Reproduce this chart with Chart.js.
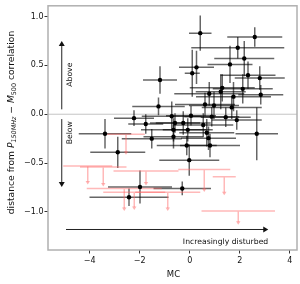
<!DOCTYPE html>
<html><head><meta charset="utf-8">
<script src="https://cdn.jsdelivr.net/npm/chart.js@4/dist/chart.umd.min.js"></script>
<style>html,body{margin:0;padding:0;background:#fff}#wrap{width:300px;height:284px}</style>
</head><body><div id="wrap"><canvas id="c" width="300" height="284"></canvas></div>
<script>
// Detected clusters: morphological concentration (MC) vs distance from correlation
const mcValues   = [0.42,2.6,1.92,2.18,1.61,0.27,0.10,-1.19,2.33,2.8,1.3,2.12,0.78,1.24,1.75,2.84,0.61,0.97,1.68,1.44,1.88,0.88,-1.25,-2.23,-0.72,0.05,-1.76,-0.59,-0.26,0.54,-0.65,-0.08,0.68,-0.65,0.75,2.68,-1.52,-0.12,0.81,-3.39,-2.88,-0.02,-0.3,-1.99,-2.43];
const mcErrors   = [0.45,1.1,1.86,1.2,0.9,0.7,0.3,0.68,1.1,1.0,1.3,1.2,1.4,1.0,1.5,0.9,1.2,1.0,1.2,1.0,1.0,1.1,1.05,0.8,1.2,1.0,0.7,1.0,1.1,1.2,1.3,1.0,1.1,1.2,1.1,0.85,1.2,1.2,1.2,1.05,1.1,1.2,1.15,1.28,1.58];
const distValues = [0.83,0.79,0.68,0.57,0.51,0.48,0.42,0.35,0.40,0.37,0.27,0.26,0.21,0.23,0.18,0.20,0.10,0.09,0.07,-0.03,-0.06,-0.025,0.08,-0.04,-0.02,-0.015,-0.10,-0.09,-0.09,-0.11,-0.16,-0.16,-0.19,-0.23,-0.245,-0.20,-0.25,-0.32,-0.32,-0.20,-0.39,-0.47,-0.76,-0.745,-0.85];
const distErrors = [0.18,0.10,0.11,0.18,0.19,0.17,0.24,0.14,0.14,0.12,0.14,0.15,0.12,0.18,0.15,0.10,0.12,0.14,0.12,0.10,0.10,0.10,0.09,0.08,0.15,0.10,0.10,0.10,0.12,0.12,0.12,0.12,0.14,0.12,0.12,0.27,0.10,0.10,0.12,0.15,0.16,0.16,0.07,0.17,0.09];
// Upper limits (pink)
const limitMC     = [-2.55,-4.08,-3.46,-1.75,-2.62,-2.22,-0.88,0.58,1.38,1.94];
const limitMCErr  = [0.75,0.98,0.93,1.3,1.5,1.24,1.3,1.04,0.46,1.47];
const limitDist   = [-0.205,-0.53,-0.54,-0.58,-0.76,-0.80,-0.80,-0.565,-0.64,-0.99];
const limitArrow  = [0.20,0.18,0.19,0.14,0.22,0.17,0.18,0.22,0.18,0.13];
const xTicks = [-4,-2,0,2,4];
const yTicks = [-1.0,-0.5,0.0,0.5,1.0];

const FONT = '"DejaVu Sans", sans-serif';
const fmt = (v,d)=> (v<0?'\u2212':'') + Math.abs(v).toFixed(d);

const overlay = {
  id:'overlay',
  beforeDatasetsDraw(chart){
    const {ctx, chartArea:a} = chart;
    const xs = chart.scales.x, ys = chart.scales.y;
    const X = v=>xs.getPixelForValue(v), Y = v=>ys.getPixelForValue(v);
    ctx.save();
    ctx.beginPath(); ctx.rect(a.left,a.top,a.right-a.left,a.bottom-a.top); ctx.clip();
    // zero line
    ctx.strokeStyle='#c4c4c4'; ctx.lineWidth=1;
    ctx.beginPath(); ctx.moveTo(a.left,Y(0)); ctx.lineTo(a.right,Y(0)); ctx.stroke();
    // annotation arrows
    ctx.strokeStyle='#222'; ctx.fillStyle='#111'; ctx.lineWidth=1;
    const ax = X(-5.12);
    function vArrow(y0,y1){
      const p0=Y(y0), p1=Y(y1), dir = p1<p0?-1:1;
      ctx.beginPath(); ctx.moveTo(ax,p0); ctx.lineTo(ax,p1-dir*4); ctx.stroke();
      ctx.beginPath(); ctx.moveTo(ax,p1); ctx.lineTo(ax-3,p1-dir*5); ctx.lineTo(ax+3,p1-dir*5); ctx.closePath(); ctx.fill();
    }
    vArrow(0.05,0.75); vArrow(-0.05,-0.745);
    const hy = Y(-1.18), hx0 = X(-4.95), hx1 = X(3.14);
    ctx.beginPath(); ctx.moveTo(hx0,hy); ctx.lineTo(hx1-4,hy); ctx.stroke();
    ctx.beginPath(); ctx.moveTo(hx1,hy); ctx.lineTo(hx1-5,hy-3); ctx.lineTo(hx1-5,hy+3); ctx.closePath(); ctx.fill();
    // error bars
    ctx.strokeStyle='rgba(0,0,0,0.6)'; ctx.lineWidth=1.5;
    for(let i=0;i<mcValues.length;i++){
      const px=X(mcValues[i]), py=Y(distValues[i]);
      ctx.beginPath();
      ctx.moveTo(X(mcValues[i]-mcErrors[i]),py); ctx.lineTo(X(mcValues[i]+mcErrors[i]),py);
      ctx.moveTo(px,Y(distValues[i]+distErrors[i])); ctx.lineTo(px,Y(distValues[i]-distErrors[i]));
      ctx.stroke();
    }
    // upper limits
    ctx.strokeStyle='rgba(255,100,100,0.45)'; ctx.fillStyle='rgba(255,100,100,0.5)'; ctx.lineWidth=1.5;
    for(let i=0;i<limitMC.length;i++){
      const px=X(limitMC[i]), py=Y(limitDist[i]), pe=Y(limitDist[i]-limitArrow[i]);
      ctx.beginPath();
      ctx.moveTo(X(limitMC[i]-limitMCErr[i]),py); ctx.lineTo(X(limitMC[i]+limitMCErr[i]),py);
      ctx.moveTo(px,py); ctx.lineTo(px,pe-2);
      ctx.stroke();
      ctx.beginPath(); ctx.moveTo(px,pe+1); ctx.lineTo(px-2.2,pe-2.5); ctx.lineTo(px+2.2,pe-2.5); ctx.closePath(); ctx.fill();
    }
    ctx.restore();
  },
  afterDraw(chart){
    const {ctx, chartArea:a} = chart;
    const xs = chart.scales.x, ys = chart.scales.y;
    const X = v=>xs.getPixelForValue(v), Y = v=>ys.getPixelForValue(v);
    ctx.save();
    // frame
    ctx.strokeStyle='#b0b0b0'; ctx.lineWidth=1.5;
    ctx.strokeRect(a.left,a.top,a.right-a.left,a.bottom-a.top);
    ctx.fillStyle='#111';
    // rotated annotation text
    function rotText(t,x,y){
      ctx.save(); ctx.translate(x,y); ctx.rotate(-Math.PI/2);
      ctx.font='7.7px '+FONT; ctx.textAlign='center'; ctx.textBaseline='middle';
      ctx.fillText(t,0,0); ctx.restore();
    }
    rotText('Above', X(-4.79), Y(0.405));
    rotText('Below', X(-4.79), Y(-0.19));
    ctx.font='7.7px '+FONT; ctx.textAlign='right'; ctx.textBaseline='middle';
    ctx.fillText('Increasingly disturbed', X(3.14), Y(-1.31));
    // x title
    ctx.font='8.5px '+FONT; ctx.textAlign='center'; ctx.textBaseline='middle';
    ctx.fillText('MC', (a.left+a.right)/2 + 1, 274.5);
    // y title with sub/italics
    const base=9.2, sub=6.4;
    const segs=[
      ['distance from ', base, false, 0],
      ['P', base, true, 0],
      ['150MHz', sub, true, 2.2],
      [' \u2212 ', base, false, 0],
      ['M', base, true, 0],
      ['500', sub, false, 2.2],
      [' correlation', base, false, 0]
    ];
    let total=0;
    segs.forEach(s=>{ctx.font=(s[2]?'italic ':'')+s[1]+'px '+FONT; s.push(ctx.measureText(s[0]).width); total+=s[4];});
    ctx.save(); ctx.translate(10.5,122.5); ctx.rotate(-Math.PI/2);
    ctx.textAlign='left'; ctx.textBaseline='alphabetic';
    let cx=-total/2;
    segs.forEach(s=>{ctx.font=(s[2]?'italic ':'')+s[1]+'px '+FONT; ctx.fillText(s[0],cx,3.2+s[3]); cx+=s[4];});
    ctx.restore();
    ctx.restore();
  }
};

new Chart(document.getElementById('c'), {
  type:'scatter',
  data:{datasets:[{
    data: mcValues.map((v,i)=>({x:v,y:distValues[i]})),
    backgroundColor:'#000', borderColor:'#000', pointRadius:2.2, pointBorderWidth:0, pointHoverRadius:2.2
  }]},
  options:{
    responsive:false, animation:false, devicePixelRatio:1,
    layout:{padding:{top:3,right:3,left:0,bottom:0}},
    plugins:{legend:{display:false}, tooltip:{enabled:false}},
    events:[],
    scales:{
      x:{type:'linear', min:-5.67, max:4.29,
        afterBuildTicks(ax){ax.ticks = xTicks.map(v=>({value:v}));},
        afterFit(ax){ax.height=34;},
        ticks:{callback:v=>fmt(v,0), font:{family:FONT,size:8}, color:'#111', padding:3, maxRotation:0, autoSkip:false},
        grid:{display:true, drawOnChartArea:false, drawTicks:true, tickLength:3.5, color:'#333', tickWidth:1},
        border:{display:false}
      },
      y:{type:'linear', min:-1.39, max:1.11,
        afterBuildTicks(ax){ax.ticks = yTicks.map(v=>({value:v}));},
        afterFit(ax){ax.width=48;},
        ticks:{callback:v=>fmt(v,1), font:{family:FONT,size:8}, color:'#111', padding:1, autoSkip:false},
        grid:{display:true, drawOnChartArea:false, drawTicks:true, tickLength:3.5, color:'#333', tickWidth:1},
        border:{display:false}
      }
    }
  },
  plugins:[overlay]
});
</script></body></html>
